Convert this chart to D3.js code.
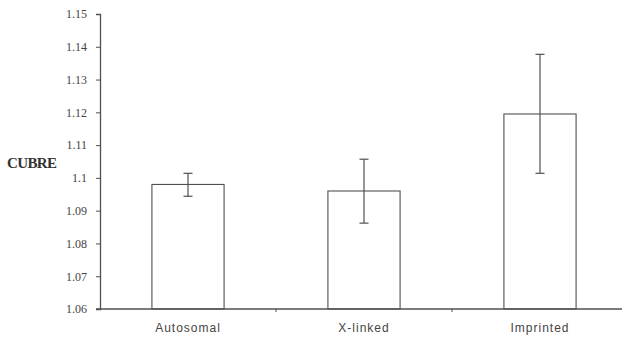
<!DOCTYPE html>
<html>
<head>
<meta charset="utf-8">
<script src="https://cdnjs.cloudflare.com/ajax/libs/d3/7.8.5/d3.min.js"></script>
<style>
  body { margin: 0; background: #fff; }
  svg { display: block; }
</style>
</head>
<body>
<svg width="624" height="340"></svg>
<script>
// data
const categories = ['Autosomal', 'X-linked', 'Imprinted'];
const means = [1.098, 1.096, 1.1195];
const errLow = [1.0944, 1.0862, 1.1014];
const errHigh = [1.1014, 1.1057, 1.1377];
const yTicks = [1.06, 1.07, 1.08, 1.09, 1.1, 1.11, 1.12, 1.13, 1.14, 1.15];
const yTickLabels = ['1.06', '1.07', '1.08', '1.09', '1.1', '1.11', '1.12', '1.13', '1.14', '1.15'];

const svg = d3.select('svg');
const ink = '#505050';

const x = d3.scaleBand().domain(categories).range([100, 628]).paddingInner(0).paddingOuter(0);
const y = d3.scaleLinear().domain([1.06, 1.15]).range([309, 14]);
const barW = x.bandwidth() * 0.41;

// y axis
const yAxis = svg.append('g')
    .attr('transform', 'translate(100,0)')
    .attr('font-family', '"Liberation Serif", "DejaVu Serif", serif')
    .call(d3.axisLeft(y).tickValues(yTicks).tickSize(4).tickPadding(9)
        .tickFormat((d, i) => yTickLabels[i]));
yAxis.attr('font-family', '"Liberation Serif", "DejaVu Serif", serif');
yAxis.select('.domain').attr('stroke', ink).attr('stroke-width', 1.3);
yAxis.selectAll('.tick line').attr('stroke', ink);
yAxis.selectAll('.tick text')
    .attr('fill', '#444')
    .style('font-family', '"Liberation Serif", "DejaVu Serif", serif')
    .style('font-size', '12px');

// bars
svg.selectAll('rect.bar')
    .data(categories).enter()
    .append('rect')
    .attr('class', 'bar')
    .attr('x', d => x(d) + x.bandwidth() / 2 - barW / 2)
    .attr('width', barW)
    .attr('y', (d, i) => y(means[i]))
    .attr('height', (d, i) => y(1.06) - y(means[i]))
    .attr('fill', '#fff')
    .attr('stroke', ink)
    .attr('stroke-width', 1.1);

// error bars
const cx = d => x(d) + x.bandwidth() / 2;
const errs = svg.append('g').attr('stroke', ink).attr('stroke-width', 1.2);
categories.forEach((c, i) => {
    errs.append('line')
        .attr('x1', cx(c)).attr('x2', cx(c))
        .attr('y1', y(errLow[i])).attr('y2', y(errHigh[i]));
    [errLow[i], errHigh[i]].forEach(v => {
        errs.append('line')
            .attr('x1', cx(c) - 4.5).attr('x2', cx(c) + 4.5)
            .attr('y1', y(v)).attr('y2', y(v));
    });
});

// x axis
const xAxis = svg.append('g')
    .attr('transform', `translate(0,${y(1.06)})`)
    .call(d3.axisBottom(x).tickSize(0).tickPadding(14));
xAxis.select('.domain').attr('stroke', ink).attr('stroke-width', 1.3)
    .attr('d', 'M96,0H622');
xAxis.selectAll('.tick text')
    .attr('fill', '#444')
    .style('font-family', '"Liberation Sans", Arial, sans-serif')
    .style('font-size', '12px')
    .style('letter-spacing', '1px');

// small separators between categories
svg.selectAll('line.sep')
    .data(categories.slice(1)).enter()
    .append('line')
    .attr('class', 'sep')
    .attr('x1', d => x(d)).attr('x2', d => x(d))
    .attr('y1', y(1.06)).attr('y2', y(1.06) + 3)
    .attr('stroke', ink);

// y label
svg.append('text')
    .attr('x', 7)
    .attr('y', 168)
    .attr('fill', '#333')
    .style('font-family', '"Liberation Serif", "DejaVu Serif", serif')
    .style('font-weight', 'bold')
    .style('font-size', '15px')
    .style('letter-spacing', '-0.6px')
    .text('CUBRE');
</script>
</body>
</html>
